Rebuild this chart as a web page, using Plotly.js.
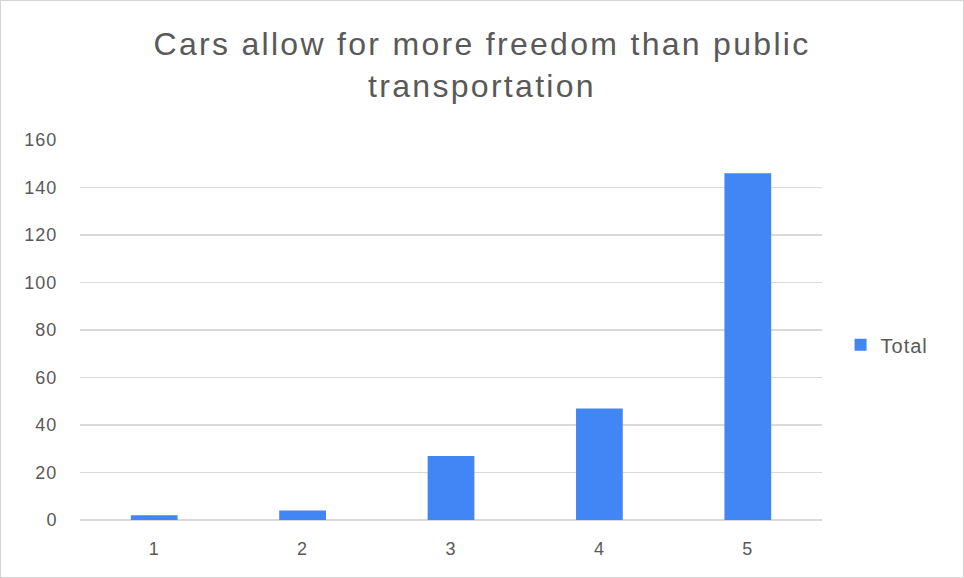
<!DOCTYPE html>
<html>
<head>
<meta charset="utf-8">
<script src="https://cdn.plot.ly/plotly-3.0.1.min.js"></script>
<style>
  html, body { margin: 0; padding: 0; background: #ffffff; }
  #chart { position: absolute; left: 0; top: 0; width: 964px; height: 578px; }
  #frame { position: absolute; left: 0; top: 0; width: 962px; height: 576px;
           border: 1px solid #d4d4d4; pointer-events: none; }
  #chart .gtitle { letter-spacing: 2.3px; }
  #chart .xtick text, #chart .ytick text, #chart .legendtext { letter-spacing: 1px; }
</style>
</head>
<body>
<div id="chart"></div>
<div id="frame"></div>
<script>
// Survey responses (1-5 agreement scale)
const categories = ['1', '2', '3', '4', '5'];
const totals = [2, 4, 27, 47, 146];
const yTicks = [0, 20, 40, 60, 80, 100, 120, 140, 160];
const chartTitle = 'Cars allow for more freedom than public<br>transportation';
const seriesName = 'Total';

const textColor = '#595959';
const gridColor = '#d9d9d9';
const fontFamily = '"Liberation Sans", Arial, Helvetica, sans-serif';

const trace = {
  type: 'bar',
  x: categories,
  y: totals,
  name: seriesName,
  marker: { color: '#4285F4' },
  showlegend: true,
  hoverinfo: 'x+y'
};

const layout = {
  width: 964,
  height: 578,
  margin: { l: 80, r: 142, t: 140, b: 58 },
  paper_bgcolor: '#ffffff',
  plot_bgcolor: '#ffffff',
  font: { family: fontFamily, color: textColor, size: 18 },
  title: {
    text: chartTitle,
    font: { family: fontFamily, size: 32, color: textColor },
    xref: 'container', x: 0.5, xanchor: 'center',
    yref: 'container', y: 1 - 55 / 578, yanchor: 'top'
  },
  bargap: 0.685,
  xaxis: {
    type: 'category',
    tickfont: { size: 18, color: textColor },
    ticks: 'outside', ticklen: 12, tickcolor: 'rgba(0,0,0,0)',
    showgrid: false, showline: false, zeroline: false
  },
  yaxis: {
    range: [0, 160],
    tickvals: yTicks,
    ticktext: yTicks.map(String),
    tickfont: { size: 18, color: textColor },
    ticks: 'outside', ticklen: 18, tickcolor: 'rgba(0,0,0,0)',
    showgrid: true, gridcolor: gridColor, gridwidth: 1.5,
    zeroline: true, zerolinecolor: gridColor, zerolinewidth: 2,
    showline: false
  },
  showlegend: true,
  legend: {
    x: 1.025, xanchor: 'left',
    y: 0.461, yanchor: 'middle',
    font: { size: 20, color: textColor },
    bgcolor: 'rgba(0,0,0,0)'
  }
};

Plotly.newPlot('chart', [trace], layout, { displayModeBar: false, staticPlot: true });
</script>
</body>
</html>
